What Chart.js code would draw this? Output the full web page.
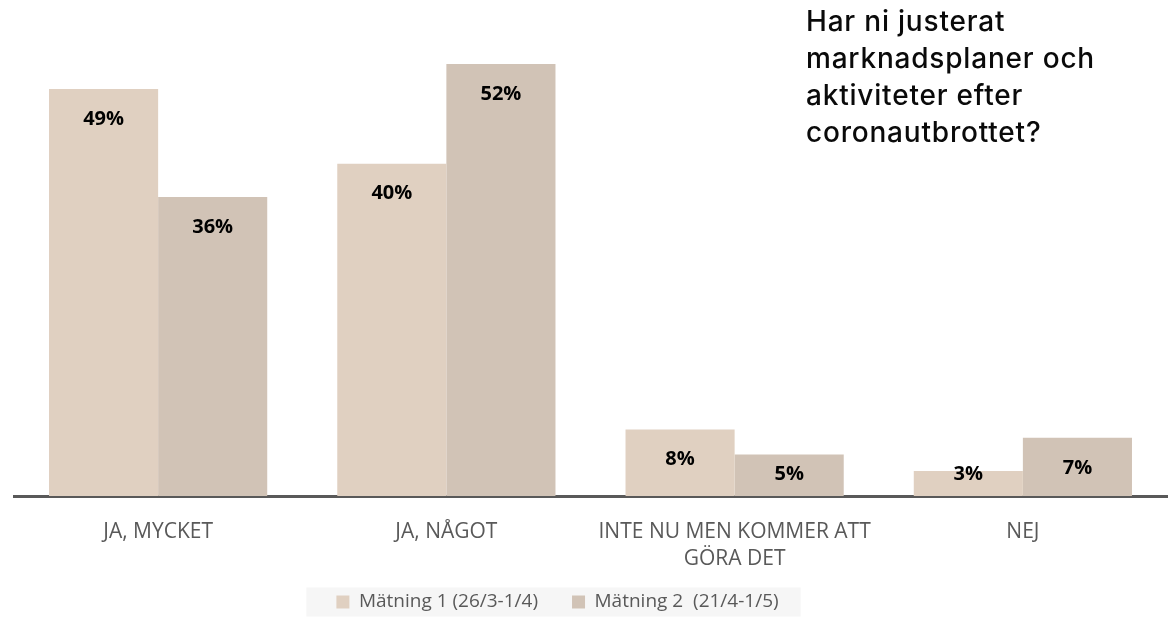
<!DOCTYPE html>
<html>
<head>
<meta charset="utf-8">
<script src="https://cdn.jsdelivr.net/npm/chart.js@4"></script>
<style>
  html, body { margin: 0; padding: 0; background: #ffffff; }
  #wrap { position: relative; width: 1173px; height: 627px; }
  #title {
    position: absolute; left: 806px; top: 3px;
    font-family: Inter, "Noto Sans", sans-serif; font-size: 28px; line-height: 37px;
    letter-spacing: 0.8px; color: #0a0a0a; font-weight: 500;
  }
</style>
</head>
<body>
<div id="wrap">
  <canvas id="c" width="1173" height="627"></canvas>
  <div id="title">Har ni justerat<br>marknadsplaner och<br>aktiviteter efter<br>coronautbrottet?</div>
</div>
<script>
const categories = [
  ["JA, MYCKET"],
  ["JA, NÅGOT"],
  ["INTE NU MEN KOMMER ATT", "GÖRA DET"],
  ["NEJ"]
];
const series1Label = "Mätning 1 (26/3-1/4)";
const series2Label = "Mätning 2  (21/4-1/5)";
const series1Values = [49, 40, 8, 3];
const series2Values = [36, 52, 5, 7];
const series1Color = "#E0D0C1";
const series2Color = "#D1C3B6";

const LEGEND_PAD = 34;
const LEGEND_FONT = 19;

const legendShift = {
  id: 'legendShift',
  afterLayout(chart) {
    const lg = chart.legend;
    if (!lg) return;
    lg.left -= 33; lg.right -= 33;
    const center = lg.top + LEGEND_PAD + LEGEND_FONT / 2;
    const dy = 602 - center;
    lg.top += dy; lg.bottom += dy;
  },
  beforeDraw(chart) {
    const lg = chart.legend;
    if (!lg || !lg.legendHitBoxes || !lg.legendHitBoxes.length) return;
    const hb = lg.legendHitBoxes;
    const first = hb[0], last = hb[hb.length - 1];
    const cy = first.top + first.height / 2;
    const ctx = chart.ctx;
    ctx.save();
    ctx.fillStyle = '#F6F6F6';
    ctx.fillRect(first.left - 30, cy - 14.5, (last.left + last.width + 22) - (first.left - 30), 29);
    ctx.restore();
  }
};

const valueLabels = {
  id: 'valueLabels',
  afterDatasetsDraw(chart) {
    const ctx = chart.ctx;
    ctx.save();
    ctx.font = 'bold 20px "Open Sans", sans-serif';
    ctx.fillStyle = '#000000';
    ctx.textAlign = 'center';
    ctx.textBaseline = 'middle';
    chart.data.datasets.forEach((ds, di) => {
      const meta = chart.getDatasetMeta(di);
      meta.data.forEach((bar, i) => {
        const y = Math.min(bar.y + 30, bar.base - 22);
        ctx.fillText(ds.data[i] + '%', bar.x, y);
      });
    });
    ctx.restore();
  }
};

new Chart(document.getElementById('c'), {
  type: 'bar',
  data: {
    labels: categories,
    datasets: [
      { label: series1Label, data: series1Values, backgroundColor: series1Color, borderWidth: 0 },
      { label: series2Label, data: series2Values, backgroundColor: series2Color, borderWidth: 0 }
    ]
  },
  options: {
    responsive: false,
    animation: false,
    devicePixelRatio: 1,
    layout: { padding: { left: 14, right: 6, top: 0, bottom: -32 } },
    datasets: { bar: { categoryPercentage: 0.757, barPercentage: 1.0 } },
    scales: {
      x: {
        grid: { display: false, drawTicks: false, tickLength: 0 },
        border: { display: true, color: '#595959', width: 3 },
        ticks: {
          color: '#595959',
          font: { family: '"Open Sans", sans-serif', size: 21, lineHeight: 27 / 21 },
          padding: 23,
          maxRotation: 0, autoSkip: false
        }
      },
      y: { display: false, min: 0, max: 59.7 }
    },
    plugins: {
      legend: {
        position: 'bottom',
        labels: {
          boxWidth: 13, boxHeight: 13, padding: LEGEND_PAD,
          color: '#595959',
          font: { family: '"Open Sans", sans-serif', size: LEGEND_FONT }
        }
      },
      tooltip: { enabled: false },
      title: { display: false }
    }
  },
  plugins: [legendShift, valueLabels]
});
</script>
</body>
</html>
